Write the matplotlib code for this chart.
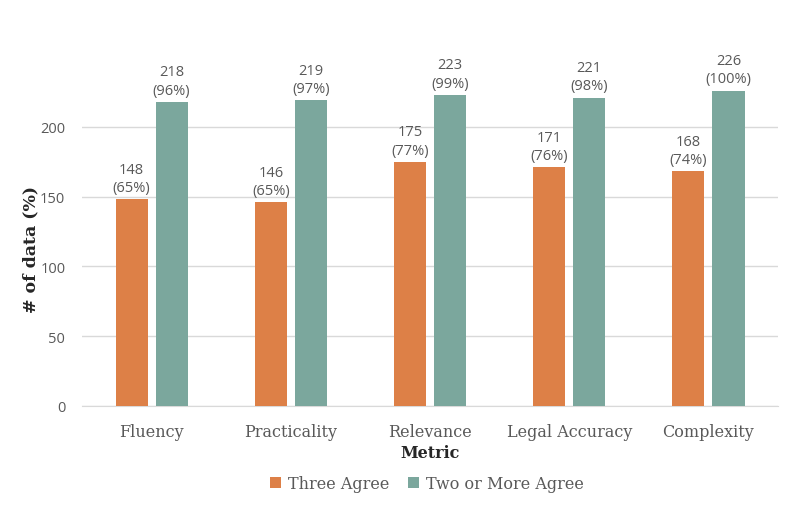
import matplotlib.pyplot as plt
import numpy as np

metrics = ['Fluency', 'Practicality', 'Relevance', 'Legal Accuracy', 'Complexity']
three_agree = [148, 146, 175, 171, 168]
three_pct = [65, 65, 77, 76, 74]
two_agree = [218, 219, 223, 221, 226]
two_pct = [96, 97, 99, 98, 100]

ORANGE = '#DD8047'
GREEN = '#7BA79D'
GREY = '#595959'
SERIF = ['DejaVu Serif']
SANS = ['Open Sans', 'DejaVu Sans']

fig = plt.figure(figsize=(7.98, 5.06), dpi=100)
ax = fig.add_axes([0.1028, 0.1957, 0.8722, 0.662])

x = np.arange(len(metrics))
w = 0.23
off = 0.144
b1 = ax.bar(x - off, three_agree, w, color=ORANGE, label='Three Agree', zorder=3)
b2 = ax.bar(x + off, two_agree, w, color=GREEN, label='Two or More Agree', zorder=3)

for bars, vals, pcts in [(b1, three_agree, three_pct), (b2, two_agree, two_pct)]:
    for b, v, p in zip(bars, vals, pcts):
        ax.annotate('{}\n({}%)'.format(v, p), (b.get_x() + b.get_width() / 2, v),
                    xytext=(0, 3), textcoords='offset points', ha='center', va='bottom',
                    fontsize=10.5, color=GREY, family=SANS, linespacing=1.3)

ax.set_xlim(-0.5, len(metrics) - 0.5)
ax.set_ylim(0, 240)
ax.set_yticks([0, 50, 100, 150, 200])
ax.yaxis.grid(True, color='#D9D9D9', linewidth=1, zorder=0)
ax.set_xticks(x)
ax.set_xticklabels(metrics, family=SERIF, fontsize=11.5, color=GREY)
for lab in ax.get_yticklabels():
    lab.set_family(SANS)
    lab.set_fontsize(10.5)
    lab.set_color(GREY)
ax.tick_params(length=0)
ax.tick_params(axis='x', pad=12)
ax.tick_params(axis='y', pad=12)
for s in ['top', 'right', 'left']:
    ax.spines[s].set_visible(False)
ax.spines['bottom'].set_color('#D9D9D9')

ax.set_ylabel('# of data (%)', family=SERIF, fontsize=12.5, fontweight='bold', color='#262626')
ax.yaxis.set_label_coords(-0.062, 0.47)
ax.set_xlabel('Metric', family=SERIF, fontsize=11.5, fontweight='bold', color='#262626', labelpad=3)

leg = fig.legend(loc='center', bbox_to_anchor=(0.535, 0.043), ncol=2, frameon=False,
                 prop={'family': SERIF, 'size': 11.5}, handlelength=0.7, handleheight=0.7,
                 handletextpad=0.4, columnspacing=1.2)
for t in leg.get_texts():
    t.set_color(GREY)

fig.savefig('out.png', dpi=100)
